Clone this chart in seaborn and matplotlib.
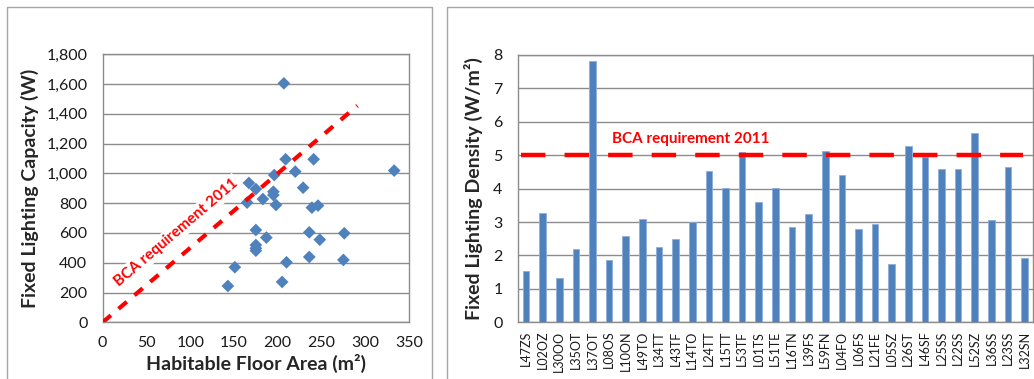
import matplotlib

matplotlib.use("Agg")
import matplotlib.pyplot as plt
import matplotlib.patches as mpatches
from matplotlib.ticker import StrMethodFormatter, FixedLocator
import seaborn as sns

# --- data ----------------------------------------------------------------
floor_area = [143, 151, 165, 167, 175, 175, 175, 175, 175, 183,
              187, 195, 195, 196, 198, 207, 205, 209, 210, 220,
              229, 236, 236, 239, 241, 246, 248, 276, 275, 333]
capacity = [244, 370, 804, 936, 895, 620, 519, 497, 481, 828,
            569, 877, 855, 989, 788, 1605, 271, 1095, 403, 1012,
            904, 604, 439, 770, 1095, 784, 555, 598, 419, 1019]

houses = ["L47ZS", "L02OZ", "L30OO", "L35OT", "L37OT", "L08OS", "L10ON", "L49TO",
          "L34TT", "L43TF", "L14TO", "L24TT", "L15TT", "L53TF", "L01TS", "L51TE",
          "L16TN", "L39FS", "L59FN", "L04FO", "L06FS", "L21FE", "L05SZ", "L26ST",
          "L46SF", "L25SS", "L22SS", "L52SZ", "L36SS", "L23SS", "L32SN"]
density = [1.54, 3.26, 1.34, 2.20, 7.82, 1.86, 2.59, 3.09, 2.26, 2.49, 2.99,
           4.54, 4.02, 5.10, 3.59, 4.02, 2.86, 3.23, 5.14, 4.41, 2.79, 2.93,
           1.73, 5.27, 4.96, 4.58, 4.58, 5.66, 3.06, 4.65, 1.93]

BCA_DENSITY = 5  # W/m2, BCA requirement 2011
BCA_AREA_END = 291

BLUE = "#4F81BD"
RED = "#FF0000"
GRID = "#8C8C8C"
FONT = ["Lato", "DejaVu Sans"]

sns.set_theme(style="whitegrid")
plt.rcParams["font.family"] = FONT
plt.rcParams["axes.edgecolor"] = GRID
plt.rcParams["grid.color"] = GRID
plt.rcParams["text.color"] = "#1a1a1a"
plt.rcParams["xtick.color"] = "#1a1a1a"
plt.rcParams["ytick.color"] = "#1a1a1a"

fig = plt.figure(figsize=(10.34, 3.79), dpi=100)

# panel frames (Excel chart areas)
fig.patches.append(mpatches.Rectangle((0.0068, -0.1), 0.4113, 1.0815, transform=fig.transFigure,
                                      fill=False, edgecolor="#A6A6A6", linewidth=1.0))
fig.patches.append(mpatches.Rectangle((0.4323, -0.1), 0.62, 1.0815, transform=fig.transFigure,
                                      fill=False, edgecolor="#A6A6A6", linewidth=1.0))

# --- left: capacity vs floor area ----------------------------------------
ax1 = fig.add_axes([0.0993, 0.1496, 0.2963, 0.7071])
sns.scatterplot(x=floor_area, y=capacity, marker="D", s=42, color=BLUE,
                edgecolor="none", ax=ax1, zorder=3)
ax1.plot([0, BCA_AREA_END], [0, BCA_DENSITY * BCA_AREA_END], color=RED, linewidth=3.0,
         linestyle=(0, (2.6, 2.4)), zorder=4)
ax1.text(84, 604, "BCA requirement 2011", rotation=40.5, rotation_mode="anchor",
         ha="center", va="center", color=RED, fontsize=11, fontweight="bold",
         bbox=dict(facecolor="white", edgecolor="none", pad=1.5), zorder=5)
ax1.set_xlim(0, 350)
ax1.set_ylim(0, 1800)
ax1.set_xticks(range(0, 351, 50))
ax1.set_yticks(range(0, 1801, 200))
ax1.yaxis.set_major_formatter(StrMethodFormatter("{x:,.0f}"))
ax1.grid(axis="x", visible=False)
ax1.grid(axis="y", linewidth=1.0)
ax1.tick_params(axis="both", labelsize=11.5, length=4, width=1, color=GRID, direction="out")
ax1.tick_params(axis="y", pad=7)
ax1.tick_params(axis="x", pad=6)
ax1.set_xlabel("Habitable Floor Area (m²)", fontsize=14, fontweight="bold", labelpad=3)
ax1.set_ylabel("Fixed Lighting Capacity (W)", fontsize=14, fontweight="bold", labelpad=5)
for sp in ax1.spines.values():
    sp.set_color(GRID)
    sp.set_linewidth(1.0)

# --- right: lighting density per house ------------------------------------
ax2 = fig.add_axes([0.5007, 0.1496, 0.4983, 0.7053])
sns.barplot(x=houses, y=density, color=BLUE, width=0.4, saturation=1,
            edgecolor="#8EAEDB", linewidth=0.6, ax=ax2, zorder=3)
ax2.hlines(BCA_DENSITY, -0.28, len(houses) - 1.1, color=RED, linewidth=3.2,
           linestyles=[(0, (5.5, 4.3))], zorder=4)
ax2.text(5.2, 5.5, "BCA requirement 2011", ha="left", va="center", color=RED,
         fontsize=11, fontweight="bold", zorder=5)
ax2.set_xlim(-0.5, len(houses) - 0.5)
ax2.set_ylim(0, 8)
ax2.set_yticks(range(0, 9))
ax2.grid(axis="x", visible=False)
ax2.grid(axis="y", linewidth=1.0)
ax2.xaxis.set_minor_locator(FixedLocator([i - 0.5 for i in range(len(houses) + 1)]))
ax2.tick_params(axis="x", which="major", length=0, labelsize=9, rotation=90, pad=6)
ax2.tick_params(axis="x", which="minor", length=4, width=1, color=GRID, direction="out")
ax2.tick_params(axis="y", labelsize=11.5, length=4, width=1, color=GRID, pad=7)
ax2.set_xlabel("")
ax2.set_ylabel("Fixed Lighting Density (W/m²)", fontsize=14, fontweight="bold", labelpad=7)
for sp in ax2.spines.values():
    sp.set_color(GRID)
    sp.set_linewidth(1.0)

fig.savefig("out.png", dpi=100)
